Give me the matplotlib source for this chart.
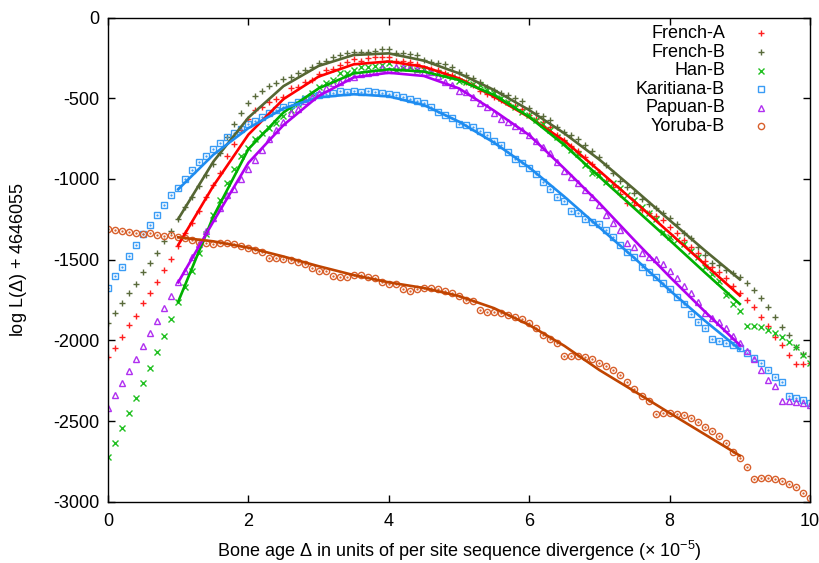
import numpy as np
import matplotlib
matplotlib.use("Agg")
import matplotlib.pyplot as plt

plt.rcParams["font.family"] = ["Liberation Sans", "DejaVu Sans"]
plt.rcParams["mathtext.default"] = "regular"
plt.rcParams["axes.unicode_minus"] = False

# bone age grid (0.0 .. 10.0 in steps of 0.1) and the range of the fitted curves
delta = np.linspace(0, 10, 101)
delta_fit = np.linspace(1, 9, 17)

# log-likelihood + 4646055
french_a = [-2104, -2048, -1980, -1906, -1848, -1770, -1708, -1640, -1561, -1496,
            -1415, -1336, -1270, -1196, -1109, -1037, -961, -858, -783, -697,
            -631, -573, -556, -523, -503, -490, -439, -432, -397, -387,
            -350, -325, -321, -294, -274, -259, -267, -253, -247, -243,
            -247, -267, -269, -274, -288, -315, -321, -325, -342, -356,
            -383, -397, -418, -453, -474, -494, -511, -527, -548, -569,
            -604, -631, -645, -680, -728, -759, -796, -828, -862, -907,
            -955, -1010, -1048, -1093, -1151, -1163, -1192, -1213, -1229, -1254,
            -1295, -1332, -1380, -1423, -1460, -1506, -1543, -1574, -1615, -1663,
            -1708, -1749, -1795, -1852, -1910, -1980, -2028, -2090, -2146, -2148,
            -2141]
french_b = [-1889, -1832, -1770, -1704, -1650, -1576, -1518, -1456, -1386, -1320,
            -1250, -1176, -1109, -1043, -975, -907, -837, -742, -659, -593,
            -532, -486, -455, -424, -404, -383, -366, -346, -325, -305,
            -284, -271, -247, -234, -222, -212, -212, -212, -207, -197,
            -197, -218, -222, -228, -232, -263, -274, -280, -288, -305,
            -335, -356, -377, -397, -428, -449, -465, -480, -500, -520,
            -562, -593, -610, -635, -680, -707, -728, -754, -787, -825,
            -862, -911, -961, -1010, -1052, -1089, -1122, -1155, -1182, -1209,
            -1244, -1279, -1332, -1367, -1419, -1471, -1518, -1533, -1564, -1584,
            -1609, -1646, -1687, -1739, -1795, -1852, -1919, -1966, -2038, -2084,
            -2096]
han_b = [-2719, -2637, -2544, -2447, -2354, -2261, -2172, -2069, -1972, -1869,
         -1762, -1669, -1568, -1460, -1340, -1226, -1128, -1027, -936, -860,
         -810, -754, -717, -686, -651, -610, -572, -535, -500, -465,
         -428, -408, -387, -346, -346, -325, -305, -305, -300, -294,
         -284, -325, -315, -305, -325, -321, -335, -346, -356, -371,
         -391, -397, -412, -418, -449, -470, -501, -521, -556, -583,
         -604, -635, -659, -697, -742, -779, -820, -848, -913, -965,
         -975, -1017, -1027, -1058, -1099, -1130, -1171, -1213, -1250, -1326,
         -1357, -1378, -1403, -1444, -1485, -1543, -1590, -1630, -1718, -1774,
         -1815, -1910, -1910, -1914, -1935, -1951, -1980, -2007, -2038, -2090,
         -2137]
karitiana_b = [-1673, -1601, -1543, -1475, -1409, -1343, -1285, -1223, -1161, -1099,
               -1054, -1000, -944, -893, -856, -816, -779, -742, -713, -688,
               -659, -639, -618, -589, -573, -552, -540, -521, -503, -486,
               -482, -474, -466, -457, -459, -457, -459, -453, -459, -465,
               -474, -480, -494, -503, -515, -532, -556, -585, -604, -624,
               -657, -666, -680, -703, -728, -763, -792, -833, -878, -903,
               -930, -969, -1017, -1060, -1109, -1136, -1196, -1213, -1250, -1264,
               -1279, -1316, -1357, -1409, -1450, -1485, -1547, -1576, -1605, -1642,
               -1683, -1729, -1774, -1836, -1883, -1925, -1993, -2001, -2013, -2026,
               -2048, -2075, -2110, -2141, -2183, -2224, -2255, -2344, -2358, -2368,
               -2389]
papuan_b = [-2420, -2337, -2261, -2187, -2112, -2034, -1956, -1879, -1801, -1724,
            -1639, -1568, -1481, -1404, -1322, -1243, -1181, -1099, -1064, -1002,
            -940, -882, -820, -754, -697, -645, -593, -569, -515, -494,
            -465, -439, -408, -399, -377, -366, -350, -342, -335, -311,
            -325, -305, -305, -305, -321, -335, -335, -362, -397, -418,
            -453, -459, -494, -532, -556, -589, -631, -645, -672, -697,
            -728, -763, -804, -841, -893, -948, -986, -1027, -1068, -1109,
            -1161, -1223, -1270, -1316, -1394, -1419, -1460, -1483, -1497, -1526,
            -1568, -1615, -1663, -1704, -1760, -1832, -1863, -1883, -1925, -1972,
            -2013, -2063, -2117, -2183, -2245, -2282, -2373, -2373, -2379, -2389,
            -2399]
yoruba_b = [-1312, -1316, -1320, -1326, -1332, -1341, -1336, -1347, -1353, -1347,
            -1357, -1367, -1378, -1388, -1394, -1403, -1394, -1398, -1403, -1415,
            -1429, -1440, -1450, -1491, -1491, -1497, -1502, -1512, -1524, -1553,
            -1567, -1570, -1603, -1607, -1605, -1594, -1594, -1605, -1615, -1636,
            -1650, -1650, -1683, -1691, -1683, -1677, -1677, -1683, -1691, -1704,
            -1724, -1749, -1753, -1811, -1821, -1821, -1828, -1842, -1852, -1869,
            -1894, -1925, -1966, -1993, -2018, -2096, -2096, -2098, -2104, -2117,
            -2137, -2158, -2183, -2214, -2255, -2302, -2344, -2373, -2455, -2447,
            -2447, -2455, -2461, -2482, -2503, -2534, -2558, -2591, -2637, -2688,
            -2730, -2781, -2860, -2853, -2853, -2860, -2868, -2888, -2909, -2942,
            -2977]

# fitted curves at delta_fit
french_a_fit = [-1409, -1043, -725, -505, -366, -290, -272, -305, -377,
                -490, -618, -763, -950, -1140, -1333, -1528, -1722]
french_b_fit = [-1248, -893, -620, -425, -300, -232, -222, -267, -346,
                -449, -573, -717, -880, -1065, -1255, -1442, -1622]
han_b_fit = [-1760, -1233, -815, -588, -439, -346, -321, -335, -387,
             -480, -615, -790, -986, -1182, -1378, -1578, -1774]
karitiana_b_fit = [-1064, -850, -685, -563, -494, -475, -488, -542, -645,
                   -775, -928, -1109, -1300, -1490, -1689, -1877, -2055]
papuan_b_fit = [-1640, -1264, -900, -666, -486, -371, -342, -362, -439,
                -577, -728, -935, -1150, -1380, -1605, -1820, -2028]
yoruba_b_fit = [-1361, -1386, -1425, -1480, -1540, -1595, -1640, -1675, -1725,
                -1800, -1904, -2033, -2183, -2315, -2449, -2581, -2713]

labels = ["French-A", "French-B", "Han-B", "Karitiana-B", "Papuan-B", "Yoruba-B"]
points = [french_a, french_b, han_b, karitiana_b, papuan_b, yoruba_b]
fits = [french_a_fit, french_b_fit, han_b_fit, karitiana_b_fit, papuan_b_fit, yoruba_b_fit]
point_colors = ["#ff2020", "#5a6b3c", "#22c022", "#3a9cf5", "#b030f0", "#d8602c"]
line_colors = ["#ff0000", "#556633", "#00b000", "#1e8cf0", "#b000f0", "#c04400"]
markers = ["+", "+", "x", "s", "^", "o"]
sizes = [5, 5, 4, 4.5, 4.5, 4.5]

fig = plt.figure(figsize=(8.2, 5.63), dpi=100)
ax = fig.add_axes([0.1317, 0.1084, 0.8561, 0.8605])

for lab, y, fit, pc, lc, m, s in zip(labels, points, fits, point_colors,
                                      line_colors, markers, sizes):
    ax.plot(delta, y, linestyle="none", marker=m, ms=s, mew=1.0,
            mfc="none", mec=pc, zorder=2)
    if m in ("s", "o"):
        # gnuplot style dot in the middle of the open symbol
        ax.plot(delta, y, linestyle="none", marker=".", ms=1.3, color=pc, zorder=2)
    ax.plot(delta_fit, fit, color=lc, lw=1.9, zorder=3)

ax.set_xlim(0, 10)
ax.set_ylim(-3000, 0)
ax.set_xticks(np.arange(0, 11, 2))
ax.set_yticks(np.arange(-3000, 1, 500))
ax.tick_params(direction="in", top=True, right=True, length=5, width=1,
               labelsize=13, pad=6)
ax.tick_params(axis="x", pad=8)
for sp in ax.spines.values():
    sp.set_linewidth(1.0)

ax.set_xlabel(r"Bone age $\Delta$ in units of per site sequence divergence (× 10$^{-5}$)",
              fontsize=13, labelpad=6)
ax.set_ylabel(r"log L($\Delta$) + 4646055", fontsize=13)
ax.yaxis.set_label_coords(-0.113, 0.5)

# gnuplot style key: right aligned text, sample on the right
for k, (lab, pc, m) in enumerate(zip(labels, point_colors, markers)):
    yk = 0.967 - 0.0382 * k
    ax.text(0.879, yk, lab, transform=ax.transAxes, ha="right", va="center",
            fontsize=13)
    ax.plot([0.930], [yk], transform=ax.transAxes, linestyle="none", marker=m,
            ms=4.5, mew=1.0, mfc="none", mec=pc, clip_on=False)

fig.savefig("out.png", dpi=100)
